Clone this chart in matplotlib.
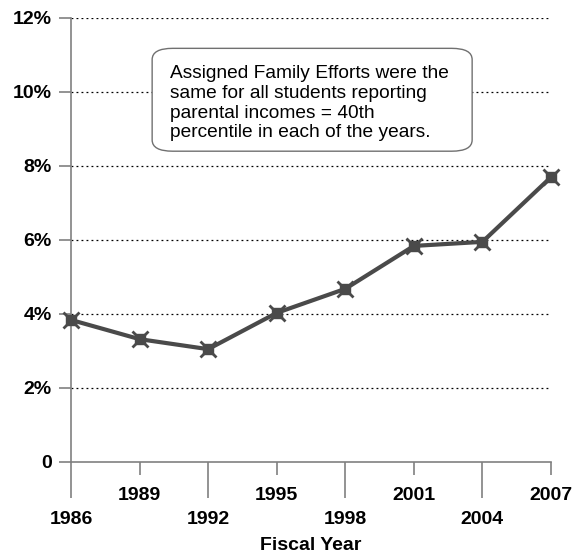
import matplotlib
matplotlib.use("Agg")
import matplotlib.pyplot as plt
from matplotlib.patches import FancyBboxPatch

# Fiscal years and the share (percent) shown for each
years = [1986, 1989, 1992, 1995, 1998, 2001, 2004, 2007]
share = [3.84, 3.32, 3.05, 4.03, 4.68, 5.84, 5.95, 7.70]

y_ticks = [0, 2, 4, 6, 8, 10, 12]
y_labels = ["0", "2%", "4%", "6%", "8%", "10%", "12%"]

note = ("Assigned Family Efforts were the\n"
        "same for all students reporting\n"
        "parental incomes = 40th\n"
        "percentile in each of the years.")

plt.rcParams["font.family"] = ["Liberation Sans", "DejaVu Sans"]

fig = plt.figure(figsize=(5.84, 5.54), dpi=100)
ax = fig.add_axes([71 / 584, 1 - 462 / 554, 480 / 584, 444 / 554])

ax.set_xlim(1986, 2007)
ax.set_ylim(0, 12)

line_col = "#4a4a4a"
ax.plot(years, share, color=line_col, lw=3.0, clip_on=False, zorder=5)
# markers: a small square with a cross through it
ax.plot(years, share, ls="none", marker="s", ms=7, mfc=line_col,
        mec=line_col, clip_on=False, zorder=6)
ax.plot(years, share, ls="none", marker="x", ms=11, mew=2.0,
        mec=line_col, clip_on=False, zorder=6)

# dotted horizontal gridlines
for yv in y_ticks[1:]:
    ax.axhline(yv, color="black", lw=0.9, ls=(0, (1.5, 2.5)), zorder=1)

for s in ["top", "right"]:
    ax.spines[s].set_visible(False)
for s in ["left", "bottom"]:
    ax.spines[s].set_color("#808080")
    ax.spines[s].set_linewidth(1.2)

ax.set_yticks(y_ticks)
ax.set_yticklabels(y_labels, fontsize=14, fontweight="bold")
ax.tick_params(axis="y", length=9, width=1.2, color="#808080", pad=5)

# staggered year labels: long ticks for the lower row, short for the upper
lower = years[0::2]
upper = years[1::2]
ax.set_xticks(lower)
ax.set_xticklabels([str(y) for y in lower], fontsize=14, fontweight="bold")
ax.set_xticks(upper, minor=True)
ax.set_xticklabels([str(y) for y in upper], minor=True, fontsize=14,
                   fontweight="bold")
ax.tick_params(axis="x", which="major", length=26, width=1.2,
               color="#808080", pad=9)
ax.tick_params(axis="x", which="minor", length=9, width=1.2,
               color="#808080", pad=9)

ax.set_xlabel("Fiscal Year", fontsize=14, fontweight="bold", labelpad=7)

# rounded note box
box = FancyBboxPatch((1989.55, 8.40), 14.0, 2.78,
                     boxstyle="round,pad=0,rounding_size=0.9",
                     mutation_aspect=2.78 / 14.0 * 1.7,
                     fc="white", ec="#707070", lw=1.0, zorder=3)
ax.add_patch(box)
ax.text(1990.35, 10.72, note, fontsize=13.8, va="top", ha="left",
        linespacing=1.2, zorder=4)

fig.savefig("out.png", dpi=100)
